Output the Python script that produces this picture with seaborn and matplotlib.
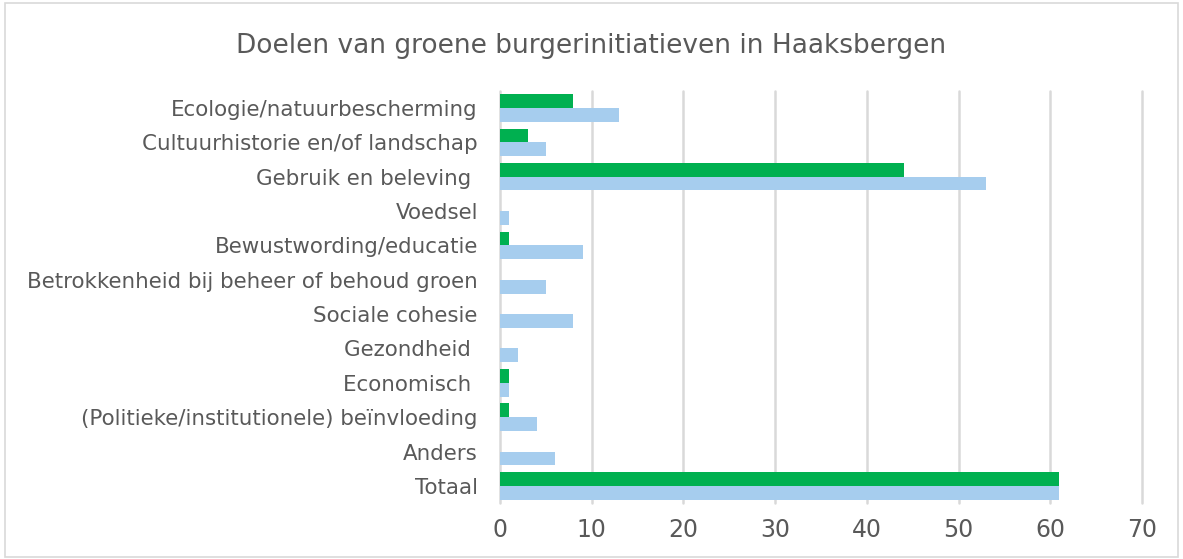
import pandas as pd
import matplotlib
matplotlib.use('Agg')
from matplotlib import pyplot as plt
import seaborn as sns

categories = ['Ecologie/natuurbescherming', 'Cultuurhistorie en/of landschap',
              'Gebruik en beleving ', 'Voedsel', 'Bewustwording/educatie',
              'Betrokkenheid bij beheer of behoud groen', 'Sociale cohesie',
              'Gezondheid ', 'Economisch ', '(Politieke/institutionele) beïnvloeding',
              'Anders', 'Totaal']
green_vals = [8, 3, 44, 0, 1, 0, 0, 0, 1, 1, 0, 61]
blue_vals = [13, 5, 53, 1, 9, 5, 8, 2, 1, 4, 6, 61]
series = ['A', 'B']
colors = ['#00B050', '#A6CDEE']

df = pd.DataFrame({
    'cat': categories * 2,
    'val': green_vals + blue_vals,
    'serie': [series[0]] * len(categories) + [series[1]] * len(categories),
})

sns.set_style('white')
plt.rcParams['font.family'] = ['DejaVu Sans']

fig = plt.figure(figsize=(11.83, 5.59), dpi=100)
ax = fig.add_axes([0.4227, 0.10, 0.5426, 0.7376])
sns.barplot(data=df, x='val', y='cat', hue='serie', hue_order=series,
            palette=colors, orient='h', width=0.8, gap=0, ax=ax,
            legend=False, saturation=1, errorbar=None, linewidth=0)

ax.set_xlim(0, 70)
ax.set_xticks(range(0, 71, 10))
ax.xaxis.grid(True, color='#D9D9D9', linewidth=1.8)
for gl in ax.get_xgridlines():
    gl.set_clip_on(False)
ax.set_axisbelow(True)
for s in ax.spines.values():
    s.set_visible(False)
ax.set_xlabel('')
ax.set_ylabel('')
ax.tick_params(axis='x', labelsize=17, colors='#595959', length=0, pad=11)
ax.tick_params(axis='y', labelsize=15.4, colors='#595959', length=0, pad=16)

fig.text(0.5, 0.918, 'Doelen van groene burgerinitiatieven in Haaksbergen',
         ha='center', va='center', fontsize=19, color='#595959')

fig.patches.append(plt.Rectangle((0.004, 0.004), 0.992, 0.99, transform=fig.transFigure,
                                 fill=False, edgecolor='#D9D9D9', linewidth=1.2))

fig.savefig('out.png', dpi=100)
